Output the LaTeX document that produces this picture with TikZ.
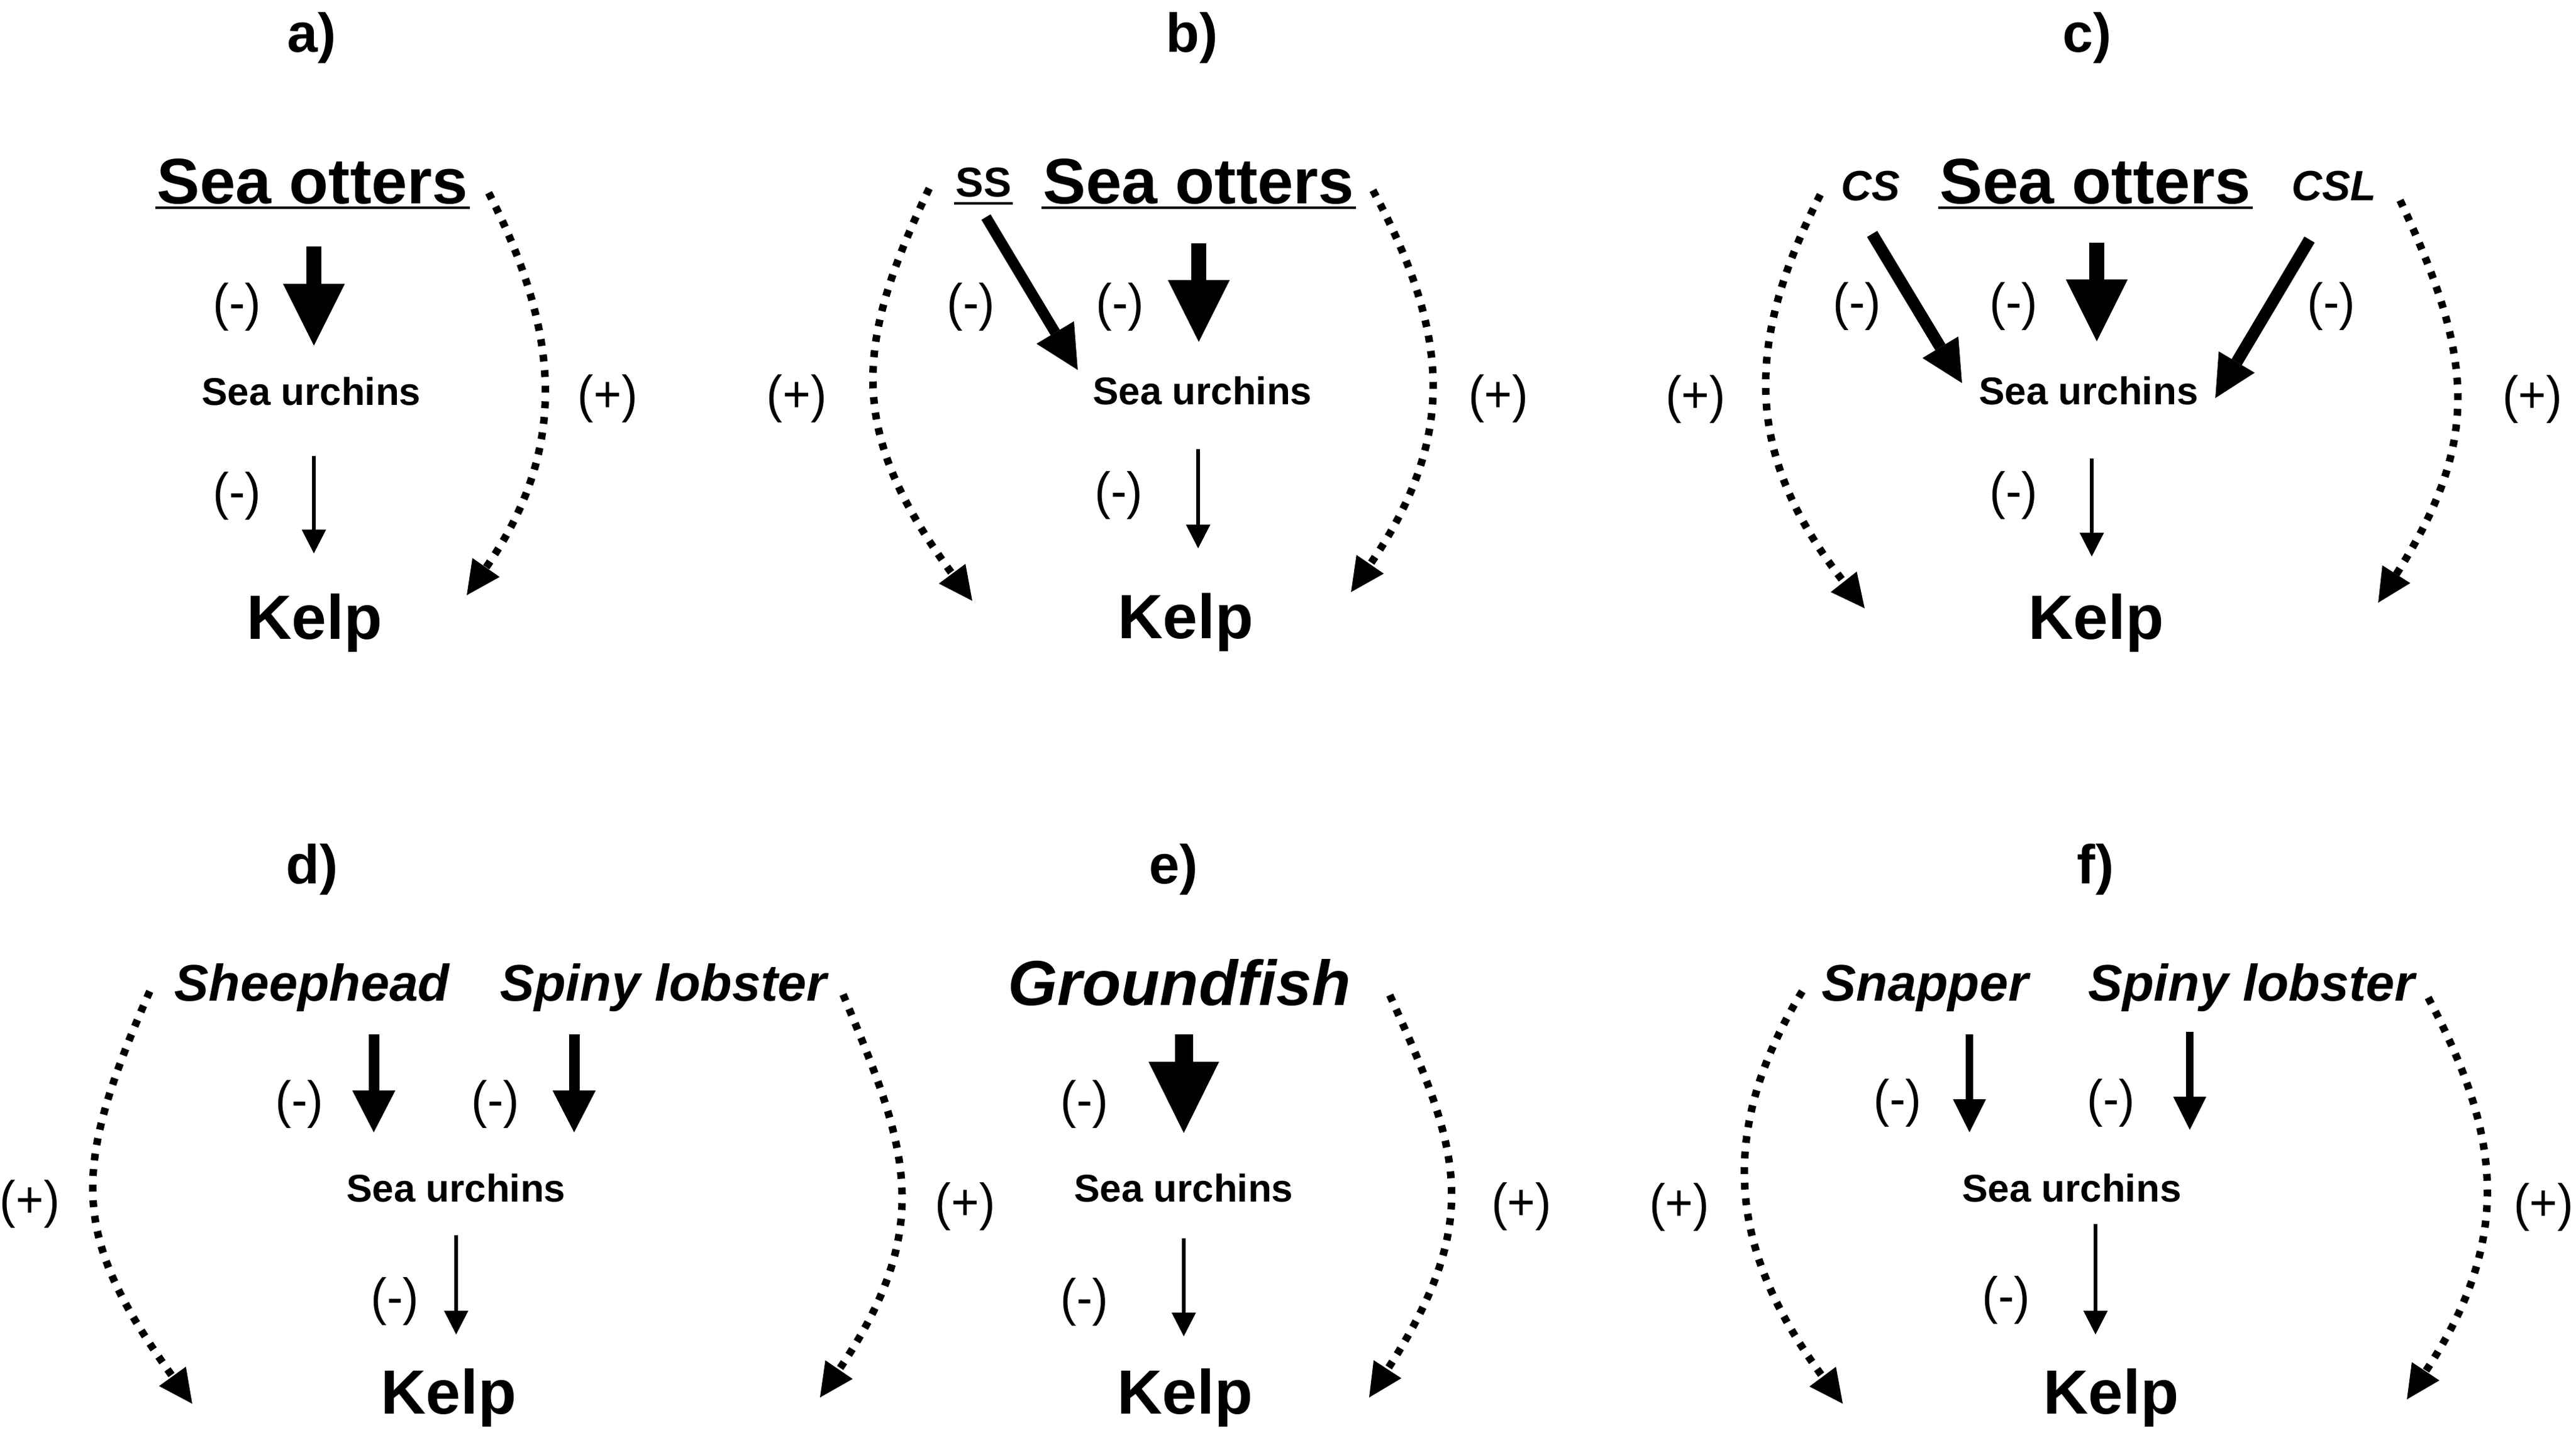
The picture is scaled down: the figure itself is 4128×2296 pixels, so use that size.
\documentclass[tikz,border=0pt]{standalone}
\usepackage{fontspec}
\setmainfont{Liberation Sans}
\newfontfamily\signfont{Liberation Sans}[FakeStretch=0.93]
\usetikzlibrary{arrows.meta,calc}
\tikzset{
  lbl/.style={anchor=base, inner sep=0pt, font=\fontsize{25}{30}\selectfont\bfseries},
  mainsp/.style={anchor=base, inner sep=0pt, font=\fontsize{29.3}{35}\selectfont\bfseries},
  kelp/.style={anchor=base, inner sep=0pt, font=\fontsize{28.5}{34}\selectfont\bfseries},
  urch/.style={anchor=base, inner sep=0pt, font=\fontsize{17.6}{21}\selectfont\bfseries},
  abbrit/.style={anchor=base, inner sep=0pt, font=\fontsize{19.3}{23}\selectfont\bfseries\itshape},
  abbrup/.style={anchor=base, inner sep=0pt, font=\fontsize{19}{23}\selectfont\bfseries},
  pred/.style={anchor=base, inner sep=0pt, font=\fontsize{23.5}{28}\selectfont\bfseries\itshape},
  gfish/.style={anchor=base, inner sep=0pt, font=\fontsize{29}{35}\selectfont\bfseries\itshape},
  sgn/.style={anchor=center, inner sep=0pt, font=\signfont\fontsize{23.5}{28}\selectfont},
  uline/.style={line width=0.45mm},
  dotc/.style={line width=1.2mm, dash pattern=on 1.1mm off 1.4mm,
    -{Triangle[length=5.4mm,width=5.3mm,line width=0pt]}},
  bigar/.style={line width=2.4mm, -{Triangle[length=9.9mm,width=9.9mm,line width=0pt]}},
  hugear/.style={line width=2.9mm, -{Triangle[length=11.4mm,width=11.3mm,line width=0pt]}},
  diagb/.style={line width=1.7mm, -{Triangle[length=7.0mm,width=7.0mm,line width=0pt]}},
  diagc/.style={line width=1.9mm, -{Triangle[length=6.7mm,width=6.7mm,line width=0pt]}},
  medar/.style={line width=1.7mm, -{Triangle[length=6.7mm,width=6.9mm,line width=0pt]}},
  smallar/.style={line width=1.2mm, -{Triangle[length=5.3mm,width=5.3mm,line width=0pt]}},
  thinar/.style={line width=0.55mm, -{Triangle[length=3.8mm,width=3.9mm,line width=0pt]}},
}
\begin{document}
\begin{tikzpicture}[x=0.01cm, y=-0.01cm]
\useasboundingbox (0,0) rectangle (4128,2296);

% ---------------- panel a ----------------
\node[lbl] (la) at (500,83) {a)};
\node[mainsp] (ota) at (501,326) {Sea otters};
\node[urch] (ura) at (499,649) {Sea urchins};
\node[kelp] (kea) at (504,1024) {Kelp};
\node[sgn] (sa1) at (380,492) {(-)};
\node[sgn] (sa2) at (380,795) {(-)};
\node[sgn] (pa) at (974,639) {(+)};
\draw[uline] ([shift={(-2,7)}]ota.base west) -- ([shift={(2,7)}]ota.base east);
\draw[bigar] ($(ota.base)+(2,69)$) -- ($(ura.base)+(4,-95)$);
\draw[thinar] ($(ura.base)+(4,82)$) -- ($(kea.base)+(-1,-137)$);
\draw[dotc] ($(ota.base)+(282,-17)$) .. controls +(117,229) and +(162,-233) .. ($(kea.base)+(244,-70)$);

% ---------------- panel b ----------------
\node[lbl] (lb) at (1910,83) {b)};
\node[abbrup] (ssb) at (1576,315) {SS};
\node[mainsp] (otb) at (1921,326) {Sea otters};
\node[urch] (urb) at (1927,648) {Sea urchins};
\node[kelp] (keb) at (1900,1023) {Kelp};
\node[sgn] (sb1) at (1556,492) {(-)};
\node[sgn] (sb2) at (1795,492) {(-)};
\node[sgn] (sb3) at (1793,794) {(-)};
\node[sgn] (pb1) at (1277,639) {(+)};
\node[sgn] (pb2) at (2401,639) {(+)};
\draw[uline] ([shift={(-2,11)}]ssb.base west) -- ([shift={(2,11)}]ssb.base east);
\draw[uline] ([shift={(-2,7)}]otb.base west) -- ([shift={(2,7)}]otb.base east);
\draw[bigar] ($(otb.base)+(0,64)$) -- ($(urb.base)+(-6,-100)$);
\draw[diagb] ($(ssb.base)+(4,33)$) -- ($(urb.base)+(-200,-55)$);
\draw[thinar] ($(urb.base)+(-7,72)$) -- ($(keb.base)+(20,-144)$);
\draw[dotc] ($(ssb.base)+(-87,-13)$) .. controls +(-120,251) and +(-201,-271) .. ($(keb.base)+(-342,-60)$);
\draw[dotc] ($(otb.base)+(279,-21)$) .. controls +(123,230) and +(171,-249) .. ($(keb.base)+(265,-74)$);

% ---------------- panel c ----------------
\node[lbl] (lc) at (3345,83) {c)};
\node[abbrit] (csc) at (2998,321) {CS};
\node[mainsp] (otc) at (3358,326) {Sea otters};
\node[abbrit] (cslc) at (3740,321) {CSL};
\node[urch] (urc) at (3347,648) {Sea urchins};
\node[kelp] (kec) at (3359,1024) {Kelp};
\node[sgn] (sc1) at (2976,491) {(-)};
\node[sgn] (sc2) at (3227,491) {(-)};
\node[sgn] (sc3) at (3736,491) {(-)};
\node[sgn] (sc4) at (3227,794) {(-)};
\node[sgn] (pc1) at (2717,640) {(+)};
\node[sgn] (pc2) at (4058,640) {(+)};
\draw[uline] ([shift={(-2,7)}]otc.base west) -- ([shift={(2,7)}]otc.base east);
\draw[bigar] ($(otc.base)+(2,63)$) -- ($(urc.base)+(13,-101)$);
\draw[diagc] ($(csc.base)+(2,54)$) -- ($(urc.base)+(-203,-34)$);
\draw[diagc] ($(cslc.base)+(-39,63)$) -- ($(urc.base)+(203,-10)$);
\draw[thinar] ($(urc.base)+(5,87)$) -- ($(kec.base)+(-7,-132)$);
\draw[dotc] ($(csc.base)+(-81,-9)$) .. controls +(-121,237) and +(-195,-247) .. ($(kec.base)+(-371,-49)$);
\draw[dotc] ($(cslc.base)+(106,0)$) .. controls +(118,252) and +(166,-261) .. ($(kec.base)+(452,-58)$);

% ---------------- panel d ----------------
\node[lbl] (ld) at (500,1416) {d)};
\node[pred] (shd) at (500,1604) {Sheephead};
\node[pred] (sld) at (1063,1604) {Spiny lobster};
\node[urch] (urd) at (731,1926) {Sea urchins};
\node[kelp] (ked) at (719,2266) {Kelp};
\node[sgn] (sd1) at (480,1770) {(-)};
\node[sgn] (sd2) at (794,1770) {(-)};
\node[sgn] (sd3) at (633,2086) {(-)};
\node[sgn] (pd1) at (48,1930) {(+)};
\node[sgn] (pd2) at (1547,1934) {(+)};
\draw[medar] ($(shd.base)+(99,54)$) -- ($(urd.base)+(-132,-111)$);
\draw[medar] ($(sld.base)+(-143,54)$) -- ($(urd.base)+(189,-111)$);
\draw[thinar] ($(urd.base)+(0,54)$) -- ($(ked.base)+(12,-127)$);
\draw[dotc] ($(shd.base)+(-260,-15)$) .. controls +(-126,287) and +(-197,-273) .. ($(ked.base)+(-411,-16)$);
\draw[dotc] ($(sld.base)+(288,-10)$) .. controls +(98,235) and +(191,-280) .. ($(ked.base)+(595,-26)$);

% ---------------- panel e ----------------
\node[lbl] (le) at (1881,1416) {e)};
\node[gfish] (gfe) at (1890,1611) {Groundfish};
\node[urch] (ure) at (1897,1926) {Sea urchins};
\node[kelp] (kee) at (1899,2266) {Kelp};
\node[sgn] (se1) at (1738,1770) {(-)};
\node[sgn] (se2) at (1738,2087) {(-)};
\node[sgn] (pe1) at (2438,1934) {(+)};
\draw[hugear] ($(gfe.base)+(7,47)$) -- ($(ure.base)+(0,-110)$);
\draw[thinar] ($(ure.base)+(0,59)$) -- ($(kee.base)+(-2,-124)$);
\draw[dotc] ($(gfe.base)+(337,-16)$) .. controls +(109,242) and +(188,-289) .. ($(kee.base)+(295,-26)$);

% ---------------- panel f ----------------
\node[lbl] (lf) at (3358,1416) {f)};
\node[pred] (snf) at (3085,1604) {Snapper};
\node[pred] (slf) at (3608,1604) {Spiny lobster};
\node[urch] (urf) at (3320,1926) {Sea urchins};
\node[kelp] (kef) at (3383,2266) {Kelp};
\node[sgn] (sf1) at (3041,1768) {(-)};
\node[sgn] (sf2) at (3383,1768) {(-)};
\node[sgn] (sf3) at (3215,2084) {(-)};
\node[sgn] (pf1) at (2691,1935) {(+)};
\node[sgn] (pf2) at (4076,1935) {(+)};
\draw[smallar] ($(snf.base)+(71,54)$) -- ($(urf.base)+(-164,-111)$);
\draw[smallar] ($(slf.base)+(-99,50)$) -- ($(urf.base)+(189,-115)$);
\draw[thinar] ($(urf.base)+(38,36)$) -- ($(kef.base)+(-25,-127)$);
\draw[dotc] ($(snf.base)+(-197,-15)$) .. controls +(-136,223) and +(-185,-249) .. ($(kef.base)+(-430,-16)$);
\draw[dotc] ($(slf.base)+(283,-5)$) .. controls +(111,210) and +(177,-266) .. ($(kef.base)+(474,-23)$);
\end{tikzpicture}
\end{document}
